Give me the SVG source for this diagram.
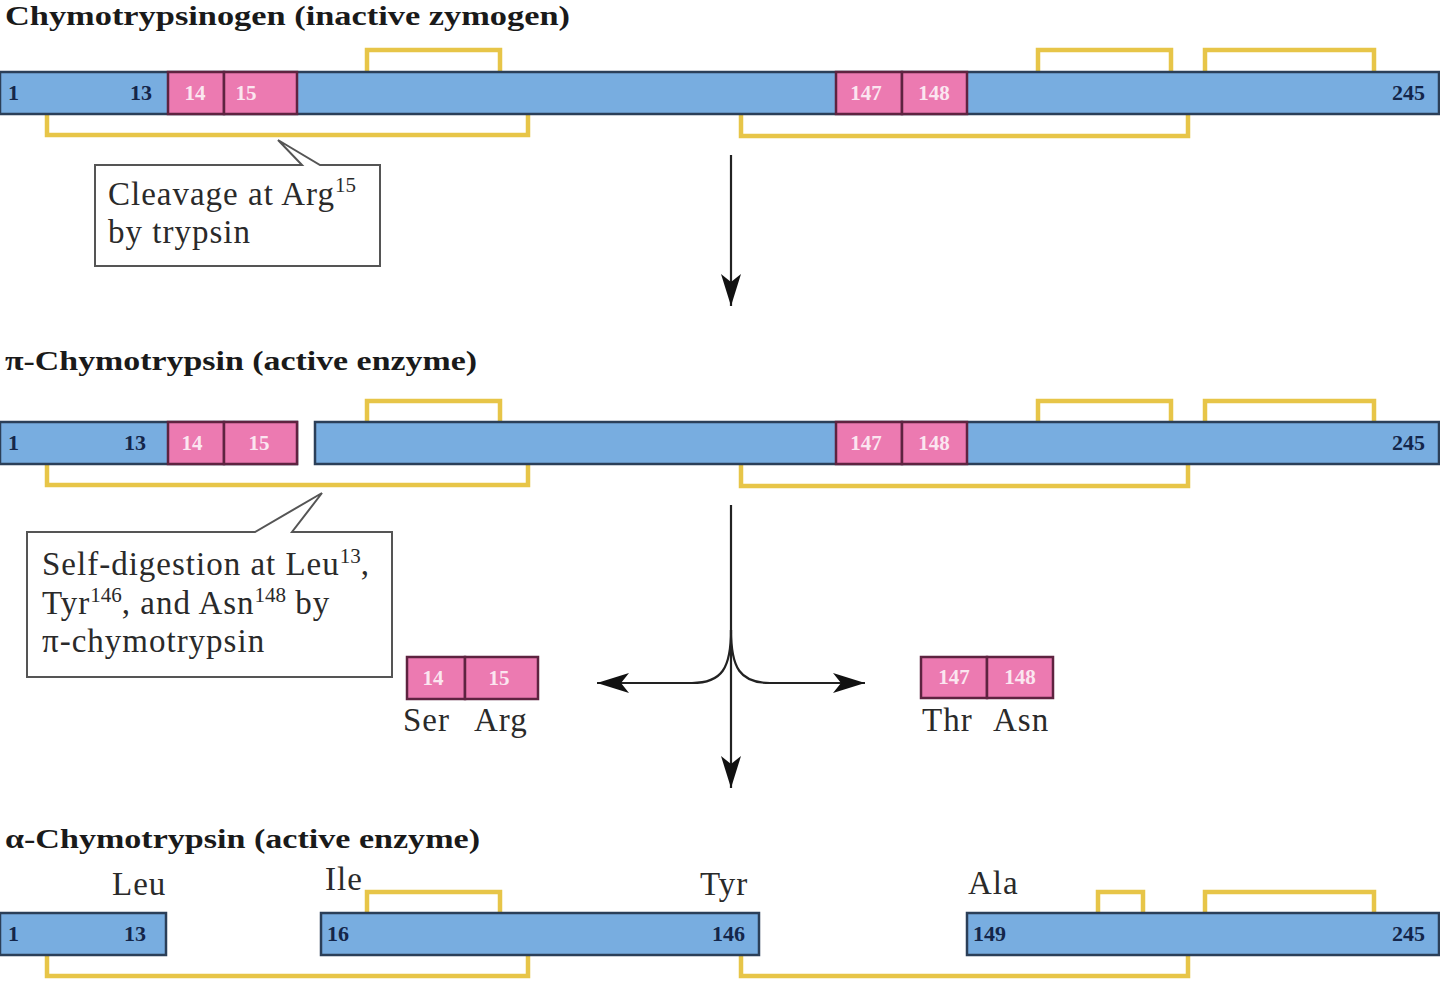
<svg xmlns="http://www.w3.org/2000/svg" width="1440" height="982" viewBox="0 0 1440 982">
  <style>
    .bar { fill: #78ade0; stroke: #2b3f58; stroke-width: 2.5; }
    .res { fill: #ec7ab1; stroke: #5e2340; stroke-width: 2.5; }
    .ss { fill: none; stroke: #e7c548; stroke-width: 4.5; }
    .title { font-family: "Liberation Serif", "DejaVu Serif", serif; font-weight: bold; font-size: 28px; fill: #1a1a1a; }
    .num { font-family: "Liberation Serif", "DejaVu Serif", serif; font-weight: bold; font-size: 22px; fill: #14264a; }
    .pnum { font-family: "Liberation Serif", "DejaVu Serif", serif; font-weight: bold; font-size: 21px; fill: #fbe6f0; text-anchor: middle; }
    .lbl { font-family: "Liberation Serif", "DejaVu Serif", serif; font-size: 33px; letter-spacing: 1px; fill: #2a2a2a; }
    .note { font-family: "Liberation Serif", "DejaVu Serif", serif; font-size: 33px; letter-spacing: 1px; fill: #2a2a2a; }
    .sup { font-size: 21px; letter-spacing: 0; }
    .callout { fill: #ffffff; stroke: #555555; stroke-width: 2; }
    .flow { fill: none; stroke: #222222; stroke-width: 2.2; }
  </style>
  <defs>
    <marker id="head" viewBox="-34 -11 36 22" markerWidth="36" markerHeight="22" refX="0" refY="0" orient="auto" markerUnits="userSpaceOnUse">
      <path d="M0,0 L-32,-10 L-24,0 L-32,10 Z" fill="#111111"/>
    </marker>
  </defs>

  <!-- Stage 1: zymogen -->
  <g id="chymotrypsinogen">
    <text class="title" x="5" y="25" textLength="565" lengthAdjust="spacingAndGlyphs">Chymotrypsinogen (inactive zymogen)</text>
    <path class="ss" d="M367,72 V50 H500 V72 M1038,72 V50 H1171 V72 M1205,72 V50 H1374 V72"/>
    <path class="ss" d="M47,114 V135 H528 V114 M741,114 V136 H1188 V114"/>
    <rect class="bar" x="0" y="72" width="1439" height="42"/>
    <rect class="res" x="168" y="72" width="56" height="42"/>
    <rect class="res" x="224" y="72" width="73" height="42"/>
    <rect class="res" x="836" y="72" width="66" height="42"/>
    <rect class="res" x="902" y="72" width="65" height="42"/>
    <text class="num" x="8" y="100">1</text>
    <text class="num" x="130" y="100">13</text>
    <text class="pnum" x="195" y="100">14</text>
    <text class="pnum" x="246" y="100">15</text>
    <text class="pnum" x="866" y="100">147</text>
    <text class="pnum" x="934" y="100">148</text>
    <text class="num" x="1425" y="100" text-anchor="end">245</text>
  </g>

  <g id="callout-trypsin">
    <path class="callout" d="M95,165 H302 L278,140 L320,165 H380 V266 H95 Z"/>
    <text class="note" x="108" y="205">Cleavage at Arg<tspan class="sup" dy="-13">15</tspan></text>
    <text class="note" x="108" y="243">by trypsin</text>
  </g>

  <!-- Stage 2: pi-chymotrypsin -->
  <g id="pi-chymotrypsin">
    <text class="title" x="5" y="370" textLength="472" lengthAdjust="spacingAndGlyphs">π-Chymotrypsin (active enzyme)</text>
    <path class="ss" d="M367,422 V401 H500 V422 M1038,422 V401 H1171 V422 M1205,422 V401 H1374 V422"/>
    <path class="ss" d="M47,464 V485 H528 V464 M741,464 V486 H1188 V464"/>
    <rect class="bar" x="0" y="422" width="297" height="42"/>
    <rect class="bar" x="315" y="422" width="1124" height="42"/>
    <rect class="res" x="168" y="422" width="56" height="42"/>
    <rect class="res" x="224" y="422" width="73" height="42"/>
    <rect class="res" x="836" y="422" width="66" height="42"/>
    <rect class="res" x="902" y="422" width="65" height="42"/>
    <text class="num" x="8" y="450">1</text>
    <text class="num" x="124" y="450">13</text>
    <text class="pnum" x="192" y="450">14</text>
    <text class="pnum" x="259" y="450">15</text>
    <text class="pnum" x="866" y="450">147</text>
    <text class="pnum" x="934" y="450">148</text>
    <text class="num" x="1425" y="450" text-anchor="end">245</text>
  </g>

  <g id="callout-self-digestion">
    <path class="callout" d="M27,532 H255 L322,493 L292,532 H392 V677 H27 Z"/>
    <text class="note" x="42" y="575">Self-digestion at Leu<tspan class="sup" dy="-12">13</tspan><tspan dy="12">,</tspan></text>
    <text class="note" x="42" y="614">Tyr<tspan class="sup" dy="-12">146</tspan><tspan dy="12">, and Asn</tspan><tspan class="sup" dy="-12">148</tspan><tspan dy="12"> by</tspan></text>
    <text class="note" x="42" y="652">π-chymotrypsin</text>
  </g>

  <!-- Released dipeptides -->
  <g id="dipeptide-ser-arg">
    <rect class="res" x="407" y="657" width="58" height="42"/>
    <rect class="res" x="465" y="657" width="73" height="42"/>
    <text class="pnum" x="433" y="685">14</text>
    <text class="pnum" x="499" y="685">15</text>
    <text class="lbl" x="403" y="731">Ser</text>
    <text class="lbl" x="474" y="731">Arg</text>
  </g>

  <g id="dipeptide-thr-asn">
    <rect class="res" x="921" y="657" width="66" height="41"/>
    <rect class="res" x="987" y="657" width="66" height="41"/>
    <text class="pnum" x="954" y="684">147</text>
    <text class="pnum" x="1020" y="684">148</text>
    <text class="lbl" x="922" y="731">Thr</text>
    <text class="lbl" x="993" y="731">Asn</text>
  </g>

  <!-- Stage 3: alpha-chymotrypsin -->
  <g id="alpha-chymotrypsin">
    <text class="title" x="5" y="848" textLength="475" lengthAdjust="spacingAndGlyphs">α-Chymotrypsin (active enzyme)</text>
    <text class="lbl" x="112" y="895">Leu</text>
    <text class="lbl" x="325" y="890">Ile</text>
    <text class="lbl" x="700" y="895">Tyr</text>
    <text class="lbl" x="968" y="894">Ala</text>
    <path class="ss" d="M367,913 V892 H500 V913 M1098,913 V892 H1143 V913 M1205,913 V892 H1374 V913"/>
    <path class="ss" d="M47,955 V976 H528 V955 M741,955 V976 H1188 V955"/>
    <rect class="bar" x="0" y="913" width="166" height="42"/>
    <rect class="bar" x="321" y="913" width="438" height="42"/>
    <rect class="bar" x="967" y="913" width="472" height="42"/>
    <text class="num" x="8" y="941">1</text>
    <text class="num" x="124" y="941">13</text>
    <text class="num" x="327" y="941">16</text>
    <text class="num" x="745" y="941" text-anchor="end">146</text>
    <text class="num" x="973" y="941">149</text>
    <text class="num" x="1425" y="941" text-anchor="end">245</text>
  </g>

  <!-- Reaction arrows -->
  <g id="connectors">
    <path class="flow" d="M731,155 V306" marker-end="url(#head)"/>
    <path class="flow" d="M731,505 V788" marker-end="url(#head)"/>
    <path class="flow" d="M731,630 C731,668 722,683 692,683 H597" marker-end="url(#head)"/>
    <path class="flow" d="M731,630 C731,668 740,683 770,683 H865" marker-end="url(#head)"/>
  </g>
</svg>
